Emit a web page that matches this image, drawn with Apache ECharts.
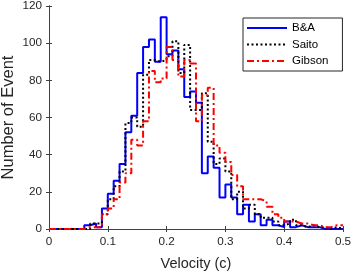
<!DOCTYPE html>
<html><head><meta charset="utf-8">
<script src="https://cdn.jsdelivr.net/npm/echarts@6/dist/echarts.min.js"></script>
<style>html,body{margin:0;padding:0;background:#fff}#c{width:354px;height:275px}</style>
</head><body><div id="c"></div>
<script>
// Histogram counts, bins of width 0.01 from 0 to 0.5
const binWidth = 0.01;
const seriesNames = ['B&A', 'Saito', 'Gibson'];
const baCounts = [0,0,0,0,0,0,2,3,1,11, 19,26,35,52,61,84,98,102,90,114, 94,96,86,71,74,68,30,39,33,17, 24,17,8,13,4,8,2,5,2,1, 4,1,2,1,1,1,0,0,0,0];
const saitoCounts = [0,0,0,0,0,0,0,3,3,8, 16,23,31,57,60,55,83,91,90,91, 93,101,84,99,64,64,73,47,35,38, 31,16,20,11,13,8,6,6,4,2, 3,5,2,1,2,1,1,0,1,0];
const gibsonCounts = [0,0,0,0,0,0,1,1,1,8, 11,16,25,30,48,45,58,85,79,81, 98,91,82,91,89,58,72,76,45,41, 36,29,23,16,16,16,15,12,8,6, 4,4,3,3,2,2,1,1,2,2];
const xTickLabels = ['0','0.1','0.2','0.3','0.4','0.5'];
const yTickLabels = ['0','20','40','60','80','100','120'];

function toSteps(counts) {
  const pts = counts.map((c, i) => [+(i * binWidth).toFixed(2), c]);
  pts.push([+(counts.length * binWidth).toFixed(2), counts[counts.length - 1]]);
  return pts;
}

const font = 'Liberation Sans, Arial, Helvetica, sans-serif';
const axisCol = '#404040';
const txtCol = '#262626';

const chart = echarts.init(document.getElementById('c'), null, {renderer: 'canvas'});
const xBase = {
  type: 'value', min: 0, max: 0.5, interval: 0.1,
  splitLine: {show: false},
  axisLine: {show: true, lineStyle: {color: axisCol, width: 1}},
  axisTick: {show: true, inside: true, length: 3, lineStyle: {color: axisCol}}
};
const yBase = {
  type: 'value', min: 0, max: 120, interval: 20,
  splitLine: {show: false},
  axisLine: {show: true, lineStyle: {color: axisCol, width: 1}},
  axisTick: {show: true, inside: true, length: 3, lineStyle: {color: axisCol}}
};
chart.setOption({
  animation: false,
  backgroundColor: '#fff',
  grid: {left: 49, right: 11, top: 6, bottom: 46, containLabel: false, outerBoundsMode: 'none'},
  xAxis: [
    Object.assign({}, xBase, {
      position: 'bottom',
      axisLabel: {color: txtCol, fontFamily: font, fontSize: 11.7, margin: 7,
        formatter: v => xTickLabels[Math.round(v * 10)]},
      name: 'Velocity (c)', nameLocation: 'middle', nameGap: 27, nameMoveOverlap: false,
      nameTextStyle: {color: txtCol, fontFamily: font, fontSize: 14.5}
    }),
    Object.assign({}, xBase, {position: 'top', axisLabel: {show: false}})
  ],
  yAxis: [
    Object.assign({}, yBase, {
      position: 'left',
      axisLabel: {color: txtCol, fontFamily: font, fontSize: 11.7, margin: 7,
        formatter: v => yTickLabels[Math.round(v / 20)]},
      name: 'Number of Event', nameLocation: 'middle', nameGap: 32, nameMoveOverlap: false,
      nameTextStyle: {color: txtCol, fontFamily: font, fontSize: 16.5}
    }),
    Object.assign({}, yBase, {position: 'right', axisLabel: {show: false}})
  ],
  legend: {
    orient: 'vertical', left: 243, top: 18,
    itemWidth: 40, itemHeight: 13, itemGap: 4.5,
    padding: [4, 14, 4, 3],
    borderColor: txtCol, borderWidth: 1, backgroundColor: '#fff',
    itemStyle: {opacity: 0},
    textStyle: {color: '#000', fontFamily: font, fontSize: 11.5},
    data: seriesNames
  },
  series: [
    {name: seriesNames[0], type: 'line', step: 'end', symbol: 'none', showSymbol: false, data: toSteps(baCounts),
      lineStyle: {color: '#0000ff', width: 2, type: 'solid'}, itemStyle: {color: '#0000ff'}},
    {name: seriesNames[1], type: 'line', step: 'end', symbol: 'none', showSymbol: false, data: toSteps(saitoCounts),
      lineStyle: {color: '#000000', width: 2, type: [2, 2.5]}, itemStyle: {color: '#000000'}},
    {name: seriesNames[2], type: 'line', step: 'end', symbol: 'none', showSymbol: false, data: toSteps(gibsonCounts),
      lineStyle: {color: '#ff0000', width: 2, type: [7, 3, 2, 3]}, itemStyle: {color: '#ff0000'}}
  ]
});
</script>
</body></html>
